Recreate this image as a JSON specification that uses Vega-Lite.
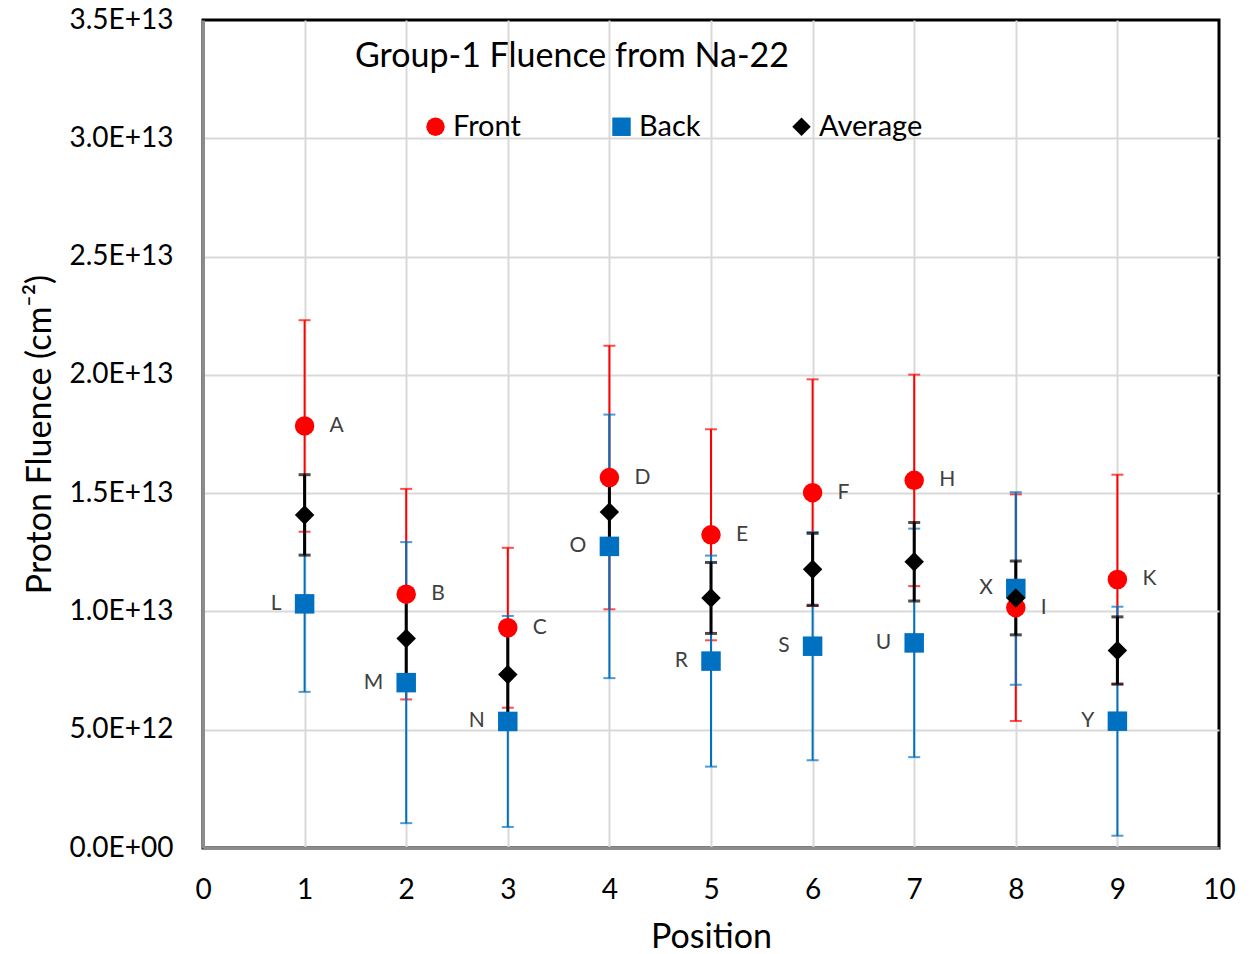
{
  "$schema": "https://vega.github.io/schema/vega-lite/v6.json",
  "width": 1016,
  "height": 828,
  "autosize": {"type": "none"},
  "padding": {"left": 203, "top": 20, "right": 39, "bottom": 106},
  "background": "#ffffff",
  "config": {
    "font": "Lato",
    "view": {"stroke": "#000000", "strokeWidth": 3},
    "axis": {
      "labelFontSize": 28,
      "labelColor": "#000000",
      "titleFontSize": 34,
      "titleFontWeight": "normal",
      "titleColor": "#000000",
      "ticks": false,
      "domainColor": "#8c8c8c",
      "domainWidth": 3,
      "gridColor": "#d9d9d9",
      "gridWidth": 2
    }
  },
  "title": {
    "text": "Group-1 Fluence from Na-22",
    "anchor": "start",
    "frame": "group",
    "orient": "none",
    "fontSize": 34,
    "fontWeight": "normal",
    "color": "#000000",
    "baseline": "alphabetic",
    "dx": 152,
    "dy": 47
  },
  "data": {
    "values": [
      {"pos": 1, "series": "Front", "fluence": 1.784e13, "err": 0.447e13, "tag": "A"},
      {"pos": 2, "series": "Front", "fluence": 1.073e13, "err": 0.445e13, "tag": "B"},
      {"pos": 3, "series": "Front", "fluence": 0.931e13, "err": 0.338e13, "tag": "C"},
      {"pos": 4, "series": "Front", "fluence": 1.566e13, "err": 0.557e13, "tag": "D"},
      {"pos": 5, "series": "Front", "fluence": 1.324e13, "err": 0.446e13, "tag": "E"},
      {"pos": 6, "series": "Front", "fluence": 1.502e13, "err": 0.479e13, "tag": "F"},
      {"pos": 7, "series": "Front", "fluence": 1.554e13, "err": 0.447e13, "tag": "H"},
      {"pos": 8, "series": "Front", "fluence": 1.016e13, "err": 0.479e13, "tag": "I"},
      {"pos": 9, "series": "Front", "fluence": 1.135e13, "err": 0.443e13, "tag": "K"},
      {"pos": 1, "series": "Back", "fluence": 1.032e13, "err": 0.372e13, "tag": "L"},
      {"pos": 2, "series": "Back", "fluence": 0.699e13, "err": 0.594e13, "tag": "M"},
      {"pos": 3, "series": "Back", "fluence": 0.535e13, "err": 0.446e13, "tag": "N"},
      {"pos": 4, "series": "Back", "fluence": 1.275e13, "err": 0.557e13, "tag": "O"},
      {"pos": 5, "series": "Back", "fluence": 0.790e13, "err": 0.446e13, "tag": "R"},
      {"pos": 6, "series": "Back", "fluence": 0.853e13, "err": 0.482e13, "tag": "S"},
      {"pos": 7, "series": "Back", "fluence": 0.867e13, "err": 0.483e13, "tag": "U"},
      {"pos": 8, "series": "Back", "fluence": 1.097e13, "err": 0.407e13, "tag": "X"},
      {"pos": 9, "series": "Back", "fluence": 0.536e13, "err": 0.484e13, "tag": "Y"},
      {"pos": 1, "series": "Average", "fluence": 1.408e13, "err": 0.170e13},
      {"pos": 2, "series": "Average", "fluence": 0.886e13, "err": 0.180e13},
      {"pos": 3, "series": "Average", "fluence": 0.733e13, "err": 0.195e13},
      {"pos": 4, "series": "Average", "fluence": 1.420e13, "err": 0.140e13},
      {"pos": 5, "series": "Average", "fluence": 1.057e13, "err": 0.150e13},
      {"pos": 6, "series": "Average", "fluence": 1.178e13, "err": 0.152e13},
      {"pos": 7, "series": "Average", "fluence": 1.210e13, "err": 0.166e13},
      {"pos": 8, "series": "Average", "fluence": 1.057e13, "err": 0.156e13},
      {"pos": 9, "series": "Average", "fluence": 0.835e13, "err": 0.142e13}
    ]
  },
  "encoding": {
    "x": {
      "field": "pos",
      "type": "quantitative",
      "scale": {"domain": [0, 10], "nice": false, "zero": false},
      "axis": {
        "title": "Position",
        "values": [0, 1, 2, 3, 4, 5, 6, 7, 8, 9, 10],
        "format": "d",
        "labelFlush": false,
        "labelPadding": 28,
        "titlePadding": 16,
        "gridOpacity": {"condition": {"test": "datum.value == 0 || datum.value == 10", "value": 0}, "value": 1}
      }
    },
    "y": {
      "field": "fluence",
      "type": "quantitative",
      "scale": {"domain": [0, 3.5e13], "nice": false},
      "axis": {
        "title": "Proton Fluence (cm⁻²)",
        "values": [0, 5e12, 1e13, 1.5e13, 2e13, 2.5e13, 3e13, 3.5e13],
        "labelExpr": "datum.value == 0 ? '0.0E+00' : upper(format(datum.value, '.1e'))",
        "labelFlush": false,
        "labelPadding": 30,
        "titlePadding": 12,
        "gridOpacity": {"condition": {"test": "datum.value == 0 || datum.value >= 3.5e13", "value": 0}, "value": 1}
      }
    }
  },
  "layer": [
    {
      "transform": [{"filter": "datum.series == 'Front'"}],
      "mark": {"type": "errorbar", "color": "#FF0000", "thickness": 2, "ticks": {"size": 12, "thickness": 2}},
      "encoding": {"yError": {"field": "err"}}
    },
    {
      "transform": [{"filter": "datum.series == 'Back'"}],
      "mark": {"type": "errorbar", "color": "#0070C0", "thickness": 2, "ticks": {"size": 12, "thickness": 2}},
      "encoding": {"yError": {"field": "err"}}
    },
    {
      "transform": [{"filter": "datum.series == 'Average'"}],
      "mark": {"type": "errorbar", "color": "#000000", "thickness": 3, "ticks": {"size": 12, "thickness": 3}},
      "encoding": {"yError": {"field": "err"}}
    },
    {
      "mark": {"type": "point", "filled": true, "opacity": 1, "size": 380},
      "encoding": {
        "color": {
          "field": "series",
          "type": "nominal",
          "scale": {"domain": ["Front", "Back", "Average"], "range": ["#FF0000", "#0070C0", "#000000"]},
          "legend": {
            "orient": "none",
            "legendX": 218,
            "legendY": 92,
            "direction": "horizontal",
            "title": null,
            "labelFontSize": 29,
            "labelColor": "#000000",
            "labelOffset": 3,
            "columnPadding": 86,
            "symbolSize": 340,
            "symbolOpacity": 1,
            "padding": 0
          }
        },
        "shape": {
          "field": "series",
          "type": "nominal",
          "scale": {"domain": ["Front", "Back", "Average"], "range": ["circle", "square", "diamond"]}
        }
      }
    },
    {
      "transform": [{"filter": "datum.series == 'Front'"}],
      "mark": {"type": "text", "align": "left", "baseline": "middle", "dx": 25, "fontSize": 21, "color": "#404040"},
      "encoding": {"text": {"field": "tag"}}
    },
    {
      "transform": [{"filter": "datum.series == 'Back'"}],
      "mark": {"type": "text", "align": "right", "baseline": "middle", "dx": -23, "fontSize": 21, "color": "#404040"},
      "encoding": {"text": {"field": "tag"}}
    }
  ]
}
